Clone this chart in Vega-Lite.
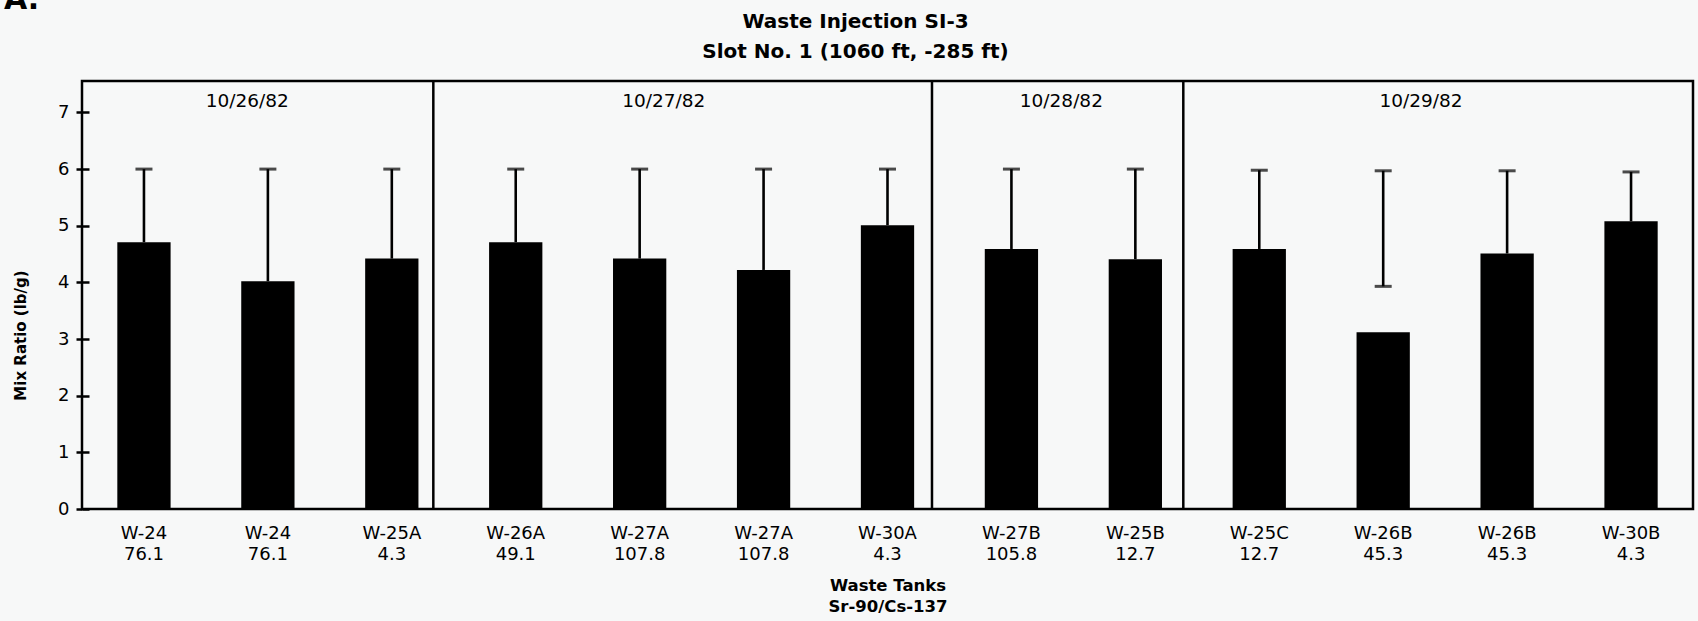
{
  "$schema": "https://vega.github.io/schema/vega-lite/v6.json",
  "width": 1611,
  "height": 428,
  "autosize": {"type": "none"},
  "padding": {"left": 82, "top": 81, "right": 5, "bottom": 112},
  "background": "#f7f8f8",
  "config": {"view": {"stroke": "#000", "strokeWidth": 2.5}, "font": "DejaVu Sans"},
  "title": {
    "text": ["Waste Injection SI-3", "Slot No. 1 (1060 ft, -285 ft)"],
    "font": "DejaVu Sans", "fontWeight": "bold", "fontSize": 20, "lineHeight": 30,
    "anchor": "middle", "dx": -32, "offset": -77, "color": "#000"
  },
  "datasets": {
    "bars": [
      {"key": "01|W-24|76.1", "value": 4.71, "lo": 4.71, "hi": 6.0},
      {"key": "02|W-24|76.1", "value": 4.02, "lo": 4.02, "hi": 6.0},
      {"key": "03|W-25A|4.3", "value": 4.42, "lo": 4.42, "hi": 6.0},
      {"key": "04|W-26A|49.1", "value": 4.71, "lo": 4.71, "hi": 6.0},
      {"key": "05|W-27A|107.8", "value": 4.42, "lo": 4.42, "hi": 6.0},
      {"key": "06|W-27A|107.8", "value": 4.22, "lo": 4.22, "hi": 6.0},
      {"key": "07|W-30A|4.3", "value": 5.01, "lo": 5.01, "hi": 6.0},
      {"key": "08|W-27B|105.8", "value": 4.59, "lo": 4.59, "hi": 6.0},
      {"key": "09|W-25B|12.7", "value": 4.41, "lo": 4.41, "hi": 6.0},
      {"key": "10|W-25C|12.7", "value": 4.59, "lo": 4.59, "hi": 5.98},
      {"key": "11|W-26B|45.3", "value": 3.12, "lo": 3.93, "hi": 5.97},
      {"key": "12|W-26B|45.3", "value": 4.51, "lo": 4.51, "hi": 5.97},
      {"key": "13|W-30B|4.3", "value": 5.08, "lo": 5.08, "hi": 5.95}
    ],
    "dividers": [{"pos": 3.335}, {"pos": 7.359}, {"pos": 9.387}],
    "dates": [
      {"date": "10/26/82", "pos": 1.834, "y": 7.2},
      {"date": "10/27/82", "pos": 5.195, "y": 7.2},
      {"date": "10/28/82", "pos": 8.403, "y": 7.2},
      {"date": "10/29/82", "pos": 11.305, "y": 7.2}
    ],
    "panel": [{"label": "A.", "pos": -0.13, "y": 8.83}]
  },
  "layer": [
    {
      "data": {"name": "bars"},
      "encoding": {
        "x": {
          "field": "key", "type": "nominal", "sort": null,
          "scale": {"paddingInner": 0.57, "paddingOuter": 0.285},
          "axis": {
            "labelExpr": "slice(split(datum.value, '|'), 1)",
            "labelAngle": 0, "ticks": false, "tickSize": 0, "domain": false, "grid": false,
            "labelFont": "DejaVu Sans", "labelFontSize": 18, "labelColor": "#000",
            "labelLineHeight": 21, "labelPadding": 15, "labelBaseline": "top",
            "title": ["Waste Tanks", "Sr-90/Cs-137"],
            "titleFont": "DejaVu Sans", "titleFontWeight": "bold", "titleFontSize": 16.5,
            "titleLineHeight": 21, "titlePadding": 14, "titleColor": "#000"
          }
        }
      },
      "layer": [
        {
          "mark": {"type": "bar", "fill": "#000"},
          "encoding": {
            "y": {
              "field": "value", "type": "quantitative", "title": "Mix Ratio (lb/g)",
              "scale": {"domain": [0, 7.555], "nice": false},
              "axis": {
                "values": [0, 1, 2, 3, 4, 5, 6, 7], "format": "d", "domain": false,
                "tickSize": 6, "tickWidth": 2.5, "tickColor": "#000",
                "grid": true, "gridColor": "#000", "gridWidth": 2.5, "gridDash": [7, 4000], "gridOpacity": 1,
                "labelFont": "DejaVu Sans", "labelFontSize": 18, "labelColor": "#000", "labelPadding": 7,
                "titleFont": "DejaVu Sans", "titleFontWeight": "bold", "titleFontSize": 15, "titleColor": "#000",
                "titleX": -62, "titleY": 254, "titleAngle": -90, "titleBaseline": "middle", "titleAlign": "center"
              }
            }
          }
        },
        {
          "mark": {"type": "rule", "color": "#000", "strokeWidth": 2.6},
          "encoding": {
            "y": {"field": "lo", "type": "quantitative", "title": "Mix Ratio (lb/g)", "scale": {"domain": [0, 7.555], "nice": false}},
            "y2": {"field": "hi"}
          }
        },
        {
          "mark": {"type": "tick", "color": "#000", "thickness": 3, "size": 17, "orient": "horizontal"},
          "encoding": {
            "y": {"field": "hi", "type": "quantitative", "title": "Mix Ratio (lb/g)", "scale": {"domain": [0, 7.555], "nice": false}}
          }
        },
        {
          "transform": [{"filter": "datum.lo > datum.value"}],
          "mark": {"type": "tick", "color": "#000", "thickness": 3, "size": 17, "orient": "horizontal"},
          "encoding": {
            "y": {"field": "lo", "type": "quantitative", "title": "Mix Ratio (lb/g)", "scale": {"domain": [0, 7.555], "nice": false}}
          }
        }
      ]
    },
    {
      "encoding": {
        "x": {"field": "pos", "type": "quantitative", "scale": {"domain": [0.5, 13.5], "nice": false, "zero": false}, "axis": null}
      },
      "layer": [
        {
          "data": {"name": "dividers"},
          "mark": {"type": "rule", "color": "#000", "strokeWidth": 2.5},
          "encoding": {}
        },
        {
          "data": {"name": "dates"},
          "mark": {"type": "text", "font": "DejaVu Sans", "fontSize": 18.5, "align": "center", "baseline": "middle", "color": "#000"},
          "encoding": {
            "y": {"field": "y", "type": "quantitative", "title": "Mix Ratio (lb/g)", "scale": {"domain": [0, 7.555], "nice": false}},
            "text": {"field": "date"}
          }
        },
        {
          "data": {"name": "panel"},
          "mark": {"type": "text", "font": "DejaVu Sans", "fontWeight": "bold", "fontSize": 30, "align": "left", "baseline": "alphabetic", "color": "#000"},
          "encoding": {
            "y": {"field": "y", "type": "quantitative", "title": "Mix Ratio (lb/g)", "scale": {"domain": [0, 7.555], "nice": false}},
            "text": {"field": "label"}
          }
        }
      ]
    }
  ],
  "resolve": {"scale": {"x": "independent"}}
}
